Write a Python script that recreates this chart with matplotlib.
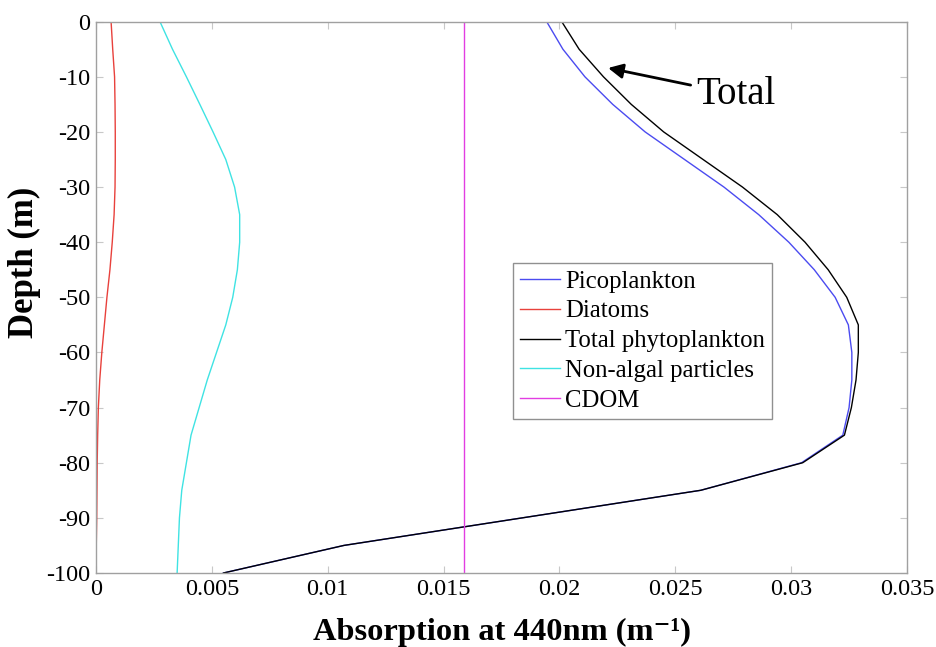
import matplotlib.pyplot as plt

plt.rcParams["font.family"] = ["Liberation Serif", "DejaVu Serif"]
plt.rcParams["axes.unicode_minus"] = False

# Depth levels (m), every 5 m
depth = [0, -5, -10, -15, -20, -25, -30, -35, -40, -45, -50,
         -55, -60, -65, -70, -75, -80, -85, -90, -95, -100]

# Absorption at 440 nm (m^-1)
picoplankton = [0.01945, 0.02015, 0.0211, 0.0223, 0.0237, 0.0254, 0.0271, 0.0286,
                0.0299, 0.0310, 0.0319, 0.03247, 0.03262, 0.03262, 0.0325, 0.03223,
                0.03045, 0.0261, 0.0184, 0.0107, 0.0055]
diatoms = [0.00065, 0.00072, 0.0008, 0.00082, 0.00083, 0.00083, 0.00082, 0.00078,
           0.0007, 0.0006, 0.00047, 0.00036, 0.00025, 0.00016, 0.0001, 0.00007,
           0.00005, 0.00004, 0.00003, 0.00001, 0.0]
total_phyto = [0.0201, 0.02085, 0.0219, 0.0231, 0.0245, 0.0262, 0.0279, 0.0294,
               0.0306, 0.0316, 0.0324, 0.0329, 0.0329, 0.0328, 0.0326, 0.0323,
               0.0305, 0.0261, 0.0184, 0.0107, 0.0055]
non_algal = [0.00276, 0.0033, 0.0039, 0.00448, 0.00505, 0.0056, 0.00598, 0.0062,
             0.0062, 0.0061, 0.0059, 0.0056, 0.0052, 0.0048, 0.00445, 0.0041,
             0.0039, 0.0037, 0.0036, 0.00355, 0.0035]
cdom = [0.0159] * len(depth)

xticks = [0, 0.005, 0.01, 0.015, 0.02, 0.025, 0.03, 0.035]
xtick_labels = ["0", "0.005", "0.01", "0.015", "0.02", "0.025", "0.03", "0.035"]
yticks = [0, -10, -20, -30, -40, -50, -60, -70, -80, -90, -100]

fig = plt.figure(figsize=(9.36, 6.47), dpi=100)
ax = fig.add_axes([0.1026, 0.1144, 0.8664, 0.8521])

ax.plot(picoplankton, depth, color="#4b4bf0", lw=1.0, label="Picoplankton")
ax.plot(diatoms, depth, color="#e8413c", lw=1.0, label="Diatoms")
ax.plot(total_phyto, depth, color="black", lw=1.0, label="Total phytoplankton")
ax.plot(non_algal, depth, color="#3fe3e3", lw=1.0, label="Non-algal particles")
ax.plot(cdom, depth, color="#e23ee2", lw=1.0, label="CDOM")

ax.set_xlim(0, 0.035)
ax.set_ylim(-100, 0)
ax.set_xticks(xticks)
ax.set_xticklabels(xtick_labels)
ax.set_yticks(yticks)
ax.tick_params(direction="in", length=5, color="#c8c8c8", labelsize=17.5,
               top=True, right=True, pad=4)
for sp in ax.spines.values():
    sp.set_color("#a0a0a0")
    sp.set_linewidth(1.0)

ax.set_xlabel("Absorption at 440nm (m\u207b\u00b9)", fontsize=23.4,
              fontweight="bold", labelpad=13)
ax.set_ylabel("Depth (m)", fontsize=25, fontweight="bold")
ax.yaxis.set_label_coords(-0.068, 0.564)

ax.annotate("Total", xy=(0.0221, -8.4), xytext=(0.0259, -13.2),
            fontsize=28, ha="left", va="center",
            arrowprops=dict(arrowstyle="-|>", color="black", lw=2,
                            mutation_scale=22, shrinkA=2, shrinkB=0))

leg = ax.legend(loc="upper left", bbox_to_anchor=(513 / 936, 1 - 263 / 647),
                bbox_transform=fig.transFigure, fontsize=17.8, fancybox=False,
                edgecolor="#909090", framealpha=1, handlelength=1.6,
                handletextpad=0.2, borderpad=0.3, labelspacing=0.3,
                borderaxespad=0)
leg.get_frame().set_linewidth(1.0)

fig.savefig("out.png", dpi=100)
